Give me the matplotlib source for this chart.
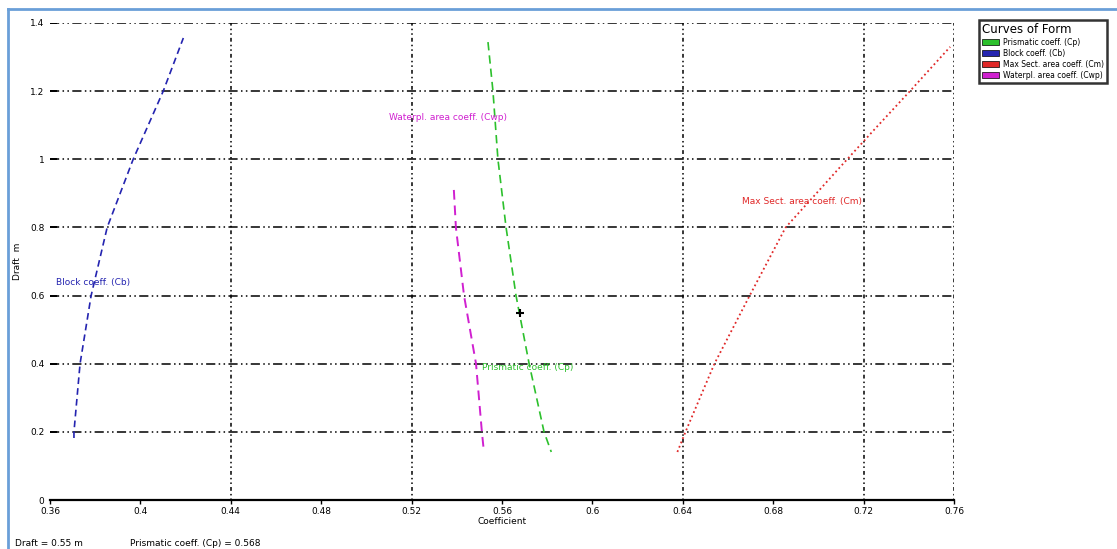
import matplotlib.pyplot as plt
from matplotlib.patches import Patch
from matplotlib.lines import Line2D

# curves of form: coefficient (x) against draft in m (y)
cb_x = [0.3706, 0.3706, 0.3733, 0.3782, 0.3853, 0.3968, 0.4101, 0.419]
cb_y = [0.182, 0.2, 0.4, 0.6, 0.8, 1.0, 1.2, 1.356]

cp_x = [0.5538, 0.556, 0.5582, 0.5618, 0.5662, 0.572, 0.5786, 0.5818]
cp_y = [1.344, 1.2, 1.0, 0.8, 0.6, 0.4, 0.2, 0.141]

cwp_x = [0.5387, 0.5396, 0.5432, 0.5485, 0.5511, 0.552]
cwp_y = [0.91, 0.8, 0.6, 0.4, 0.2, 0.141]

cm_x = [0.6376, 0.6412, 0.654, 0.6696, 0.6855, 0.7104, 0.7254, 0.7405, 0.7583]
cm_y = [0.141, 0.2, 0.4, 0.6, 0.8, 0.983, 1.092, 1.2, 1.33]

design_draft = 0.55
design_cp = 0.568

xticks = [0.36, 0.40, 0.44, 0.48, 0.52, 0.56, 0.60, 0.64, 0.68, 0.72, 0.76]
xtick_labels = ["0.36", "0.4", "0.44", "0.48", "0.52", "0.56", "0.6", "0.64", "0.68", "0.72", "0.76"]
xgrid = [0.44, 0.52, 0.64, 0.72, 0.76]
yticks = [0, 0.2, 0.4, 0.6, 0.8, 1.0, 1.2, 1.4]
ytick_labels = ["0", "0.2", "0.4", "0.6", "0.8", "1", "1.2", "1.4"]

green = "#2cc02c"
blue = "#2424b0"
red = "#e02828"
magenta = "#d020d0"

W, H = 1117, 549
fig = plt.figure(figsize=(W / 100, H / 100), dpi=100)
ax = fig.add_axes([50 / W, 1 - 500 / H, (954 - 50) / W, (500 - 23) / H])
ax.set_xlim(0.36, 0.76)
ax.set_ylim(0, 1.4)

grid_ls = (0, (6, 2.2, 1, 2.2, 1, 2.2))
for y in yticks[1:]:
    ax.plot([0.36, 0.76], [y, y], color="black", lw=1.1, ls=grid_ls, zorder=1)
    ax.plot([0.36, 0.3627], [y, y], color="black", lw=1.4, zorder=1)
for x in xgrid:
    ax.plot([x, x], [0, 1.4], color="black", lw=1.1, ls=(0, (1, 2, 1, 2, 2.5, 2)), zorder=1)

ax.plot(cb_x, cb_y, color=blue, lw=1.2, ls=(0, (4, 2.5)), zorder=3)
ax.plot(cp_x, cp_y, color=green, lw=1.2, ls=(0, (5, 3)), zorder=3)
ax.plot(cwp_x, cwp_y, color=magenta, lw=1.4, ls=(0, (5, 3)), zorder=3)
ax.plot(cm_x, cm_y, color=red, lw=1.3, ls=(0, (1, 1.6)), zorder=3)
ax.plot([design_cp], [design_draft], marker="+", color="black", ms=6, mew=1.5, zorder=4)

fs = 6.5
ax.text(0.3625, 0.637, "Block coeff. (Cb)", color=blue, fontsize=fs, va="center")
ax.text(0.510, 1.123, "Waterpl. area coeff. (Cwp)", color=magenta, fontsize=fs, va="center")
ax.text(0.551, 0.39, "Prismatic coeff. (Cp)", color=green, fontsize=fs, va="center")
ax.text(0.666, 0.875, "Max Sect. area coeff. (Cm)", color=red, fontsize=fs, va="center")

for s in ["top", "right", "left"]:
    ax.spines[s].set_visible(False)
ax.spines["bottom"].set_linewidth(1.6)
ax.set_xticks(xticks)
ax.set_xticklabels(xtick_labels, fontsize=fs)
ax.set_yticks(yticks)
ax.set_yticklabels(ytick_labels, fontsize=fs)
ax.tick_params(axis="x", length=3, width=1, pad=2)
ax.tick_params(axis="y", length=0, pad=4)
ax.set_xlabel("Coefficient", fontsize=fs, labelpad=1)
ax.set_ylabel("Draft  m", fontsize=fs, labelpad=6)

handles = [Patch(facecolor=green, edgecolor="black", lw=0.5),
           Patch(facecolor=blue, edgecolor="black", lw=0.5),
           Patch(facecolor=red, edgecolor="black", lw=0.5),
           Patch(facecolor=magenta, edgecolor="black", lw=0.5)]
labels = ["Prismatic coeff. (Cp)", "Block coeff. (Cb)",
          "Max Sect. area coeff. (Cm)", "Waterpl. area coeff. (Cwp)"]
leg = fig.legend(handles, labels, title="Curves of Form", loc="upper left",
                 bbox_to_anchor=(975 / W, 1 - 16 / H), fontsize=5.5,
                 title_fontsize=8.5, frameon=True, fancybox=False,
                 handlelength=2.2, handleheight=0.9, labelspacing=0.25,
                 borderpad=0.4, handletextpad=0.6)
leg.get_frame().set_edgecolor("black")
leg.get_frame().set_linewidth(1.8)
leg._legend_box.align = "left"

fig.text(15 / W, 1 - 543 / H, "Draft = 0.55 m", fontsize=fs, va="center")
fig.text(130 / W, 1 - 543 / H, "Prismatic coeff. (Cp) = 0.568", fontsize=fs, va="center")

# screenshot frame
fig.add_artist(Line2D([8 / W, 1], [1 - 9 / H, 1 - 9 / H], color="#6a9fd8", lw=2))
fig.add_artist(Line2D([8 / W, 8 / W], [0, 1 - 9 / H], color="#6a9fd8", lw=2))

fig.savefig("out.png", dpi=100)
